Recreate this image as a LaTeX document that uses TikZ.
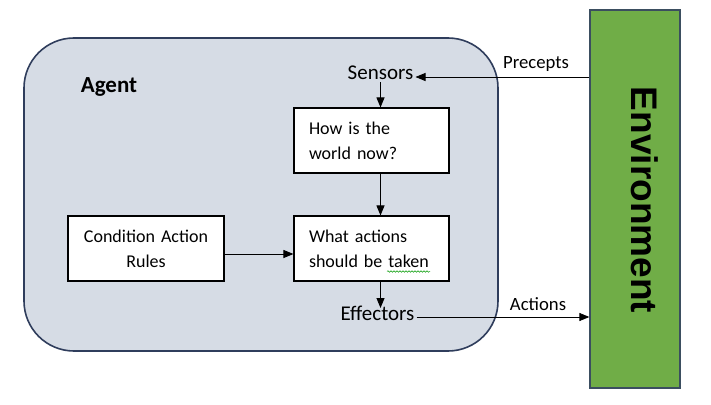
\documentclass[tikz,border=0pt]{standalone}
\usepackage{fontspec}
\setmainfont{Carlito}
\newfontfamily\envfont{Liberation Sans}
\usetikzlibrary{arrows.meta,decorations.pathmorphing}
\definecolor{agentfill}{HTML}{D6DCE5}
\definecolor{agentdraw}{HTML}{2F3D5C}
\definecolor{envfill}{HTML}{70AD47}
\definecolor{envdraw}{HTML}{3B4E60}
\begin{document}
\begin{tikzpicture}[x=1pt,y=-1pt,
  txt/.style={font=\fontsize{18.7}{25}\selectfont, inner sep=2pt},
  bigtxt/.style={font=\fontsize{21}{25}\selectfont, inner sep=2pt},
  box/.style={draw=black, line width=1.1pt, fill=white, minimum width=155pt, minimum height=65pt, font=\fontsize{18}{25}\selectfont},
  lbox/.style={box, text width=125pt, inner xsep=15pt, align=left},
  cbox/.style={box, text width=140pt, inner xsep=8pt, align=center},
  arr/.style={line width=0.9pt, -{Triangle[length=10pt,width=8pt]}}]
\useasboundingbox (0,0) rectangle (711,404);
\node[draw=agentdraw, fill=agentfill, line width=1.6pt, rounded corners=50pt,
  minimum width=474pt, minimum height=313pt, inner sep=0pt] (agent) at (261,194.5) {};
\node[draw=envdraw, fill=envfill, line width=1.3pt, minimum width=90pt, minimum height=378pt, inner sep=0pt] (env) at (635,199) {};
\node[rotate=-90, font=\envfont\bfseries\fontsize{37}{40}\selectfont] (envtext) at (645,200) {Environment};
\node[font=\bfseries\fontsize{23}{26}\selectfont, inner sep=0pt] (agentlabel) at (109,87) {Agent};
\node[lbox] (how) at (371.5,140.5) {How is the\\world now?};
\node[lbox] (what) at (371.5,248.5) {What actions\\should be taken};
\node[cbox] (cond) at (146,248.5) {Condition Action\\Rules};
\node[bigtxt] (sensors) at (380.5,73) {Sensors};
\node[bigtxt] (effectors) at (377.5,313) {Effectors};
\node[txt] (precepts) at (536,64) {Precepts};
\node[txt] (actions) at (538,304) {Actions};
\coordinate (precy) at (0,77);
\coordinate (acty) at (0,317);
\coordinate (effy) at (0,308);
\coordinate (squigA) at (387,271.5);
\coordinate (squigB) at (430,271.5);
\draw[arr] (env.west |- precy) -- (sensors.east |- precy);
\draw[arr] (sensors.south) -- (sensors.south |- how.north);
\draw[arr] (how.south -| sensors) -- (what.north -| sensors);
\draw[arr] ([yshift=-5.5pt]cond.east) -- ([yshift=-5.5pt]what.west);
\draw[arr] (what.south -| sensors) -- (sensors |- effy);
\draw[arr] (effectors.east |- acty) -- (env.west |- acty);
\draw[green!60!black, line width=0.5pt, decorate, decoration={snake, amplitude=0.8pt, segment length=3pt}] (squigA) -- (squigB);
\end{tikzpicture}
\end{document}
